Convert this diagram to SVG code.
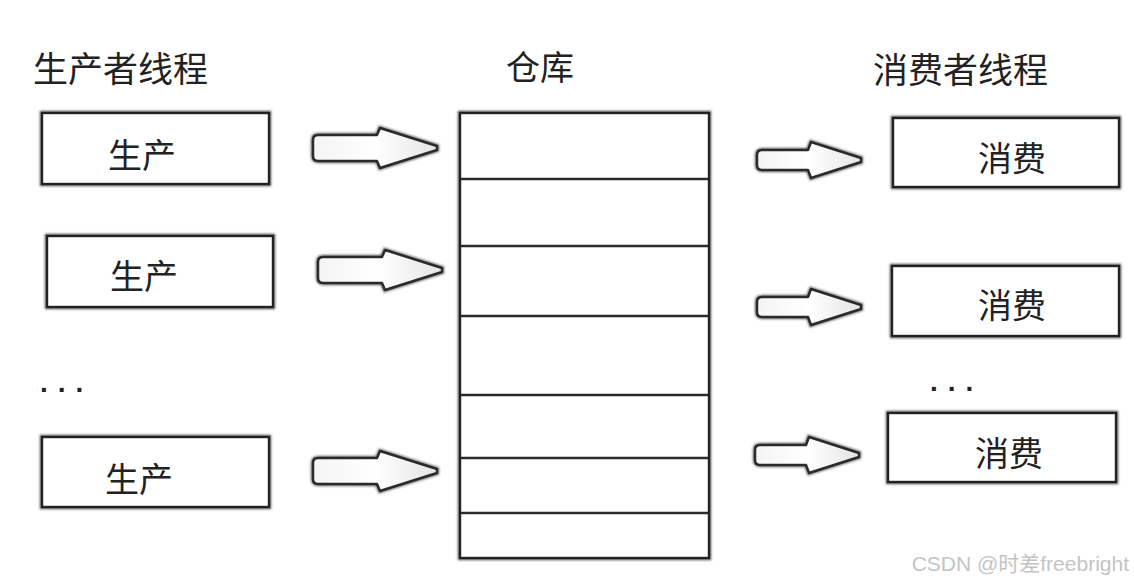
<svg xmlns="http://www.w3.org/2000/svg" xmlns:xlink="http://www.w3.org/1999/xlink" width="1134" height="584" viewBox="0 0 1134 584">
  <style>
    .title { font-family: "Noto Sans CJK SC", "Noto Sans", sans-serif; font-size: 35px; fill: #222; }
    .label { font-family: "Noto Sans CJK SC", "Noto Sans", sans-serif; font-size: 34px; fill: #222; }
    .dots { font-family: "Liberation Sans", sans-serif; font-size: 28px; font-weight: bold; fill: #222; letter-spacing: 10px; }
    .box-shadow { fill: none; stroke: #666; stroke-width: 4.5; filter: url(#soft); }
    .box { fill: #fff; stroke: #222; stroke-width: 2.4; }
    .shelf { stroke: #2a2a2a; stroke-width: 2.4; }
    .shelf-shadow { stroke: #777; stroke-width: 3.5; filter: url(#soft); }
    .arrow { fill: url(#arrowFill); stroke: #2a2a2a; stroke-width: 2.5; stroke-linejoin: round; }
    .arrow-shadow { fill: none; stroke: #777; stroke-width: 4.5; filter: url(#soft); }
    .wm { font-family: "Liberation Sans", "Noto Sans CJK SC", sans-serif; font-size: 21px; fill: #c4c4c4; }
  </style>
  <defs>
    <filter id="soft" x="-10%" y="-20%" width="120%" height="140%">
      <feGaussianBlur stdDeviation="1"/>
    </filter>
    <linearGradient id="arrowFill" x1="0" y1="0" x2="1" y2="0">
      <stop offset="0" stop-color="#f4f4f4"/>
      <stop offset="0.5" stop-color="#ffffff"/>
      <stop offset="1" stop-color="#e4e4e4"/>
    </linearGradient>
    <path id="pArrow" d="M5,-13 H64 L67,-20 L124,-2 L124,2 L67,20 L64,13 H5 Q0,13 0,8 V-8 Q0,-13 5,-13 Z"/>
    <path id="cArrow" d="M5,-10 H51 L54,-18 L104,-2 L104,2 L54,18 L51,10 H5 Q0,10 0,5 V-5 Q0,-10 5,-10 Z"/>
  </defs>
  <rect width="1134" height="584" fill="#fff"/>

  <!-- titles -->
  <text id="title-producer" class="title" x="33" y="82">生产者线程</text>
  <text id="title-warehouse" class="title" x="506" y="80" style="font-size:34px">仓库</text>
  <text id="title-consumer" class="title" x="873" y="83">消费者线程</text>

  <!-- producers -->
  <g id="producer-1">
    <rect class="box-shadow" x="42" y="113" width="227" height="71"/>
    <rect class="box" x="42" y="113" width="227" height="71"/>
    <text class="label" x="108" y="168">生产</text>
  </g>
  <g id="producer-2">
    <rect class="box-shadow" x="47" y="236" width="226" height="71"/>
    <rect class="box" x="47" y="236" width="226" height="71"/>
    <text class="label" x="110" y="289">生产</text>
  </g>
  <text id="producer-dots" class="dots" x="40" y="392">...</text>
  <g id="producer-3">
    <rect class="box-shadow" x="42" y="437" width="227" height="70"/>
    <rect class="box" x="42" y="437" width="227" height="70"/>
    <text class="label" x="105" y="492">生产</text>
  </g>

  <!-- warehouse -->
  <g id="warehouse">
    <rect class="box-shadow" x="460" y="113" width="249" height="445"/>
    <rect class="box" x="460" y="113" width="249" height="445"/>
    <g>
      <line class="shelf-shadow" x1="466" y1="181" x2="706" y2="181"/>
      <line class="shelf-shadow" x1="466" y1="248" x2="706" y2="248"/>
      <line class="shelf-shadow" x1="466" y1="318" x2="706" y2="318"/>
      <line class="shelf-shadow" x1="466" y1="397" x2="706" y2="397"/>
      <line class="shelf-shadow" x1="466" y1="460" x2="706" y2="460"/>
      <line class="shelf-shadow" x1="466" y1="515" x2="706" y2="515"/>
      <line class="shelf" x1="461" y1="179" x2="708" y2="179"/>
      <line class="shelf" x1="461" y1="246" x2="708" y2="246"/>
      <line class="shelf" x1="461" y1="316" x2="708" y2="316"/>
      <line class="shelf" x1="461" y1="395" x2="708" y2="395"/>
      <line class="shelf" x1="461" y1="458" x2="708" y2="458"/>
      <line class="shelf" x1="461" y1="513" x2="708" y2="513"/>
    </g>
  </g>

  <!-- consumers -->
  <g id="consumer-1">
    <rect class="box-shadow" x="893" y="118" width="226" height="69"/>
    <rect class="box" x="893" y="118" width="226" height="69"/>
    <text class="label" x="978" y="171">消费</text>
  </g>
  <g id="consumer-2">
    <rect class="box-shadow" x="892" y="266" width="227" height="70"/>
    <rect class="box" x="892" y="266" width="227" height="70"/>
    <text class="label" x="978" y="318">消费</text>
  </g>
  <text id="consumer-dots" class="dots" x="930" y="391">...</text>
  <g id="consumer-3">
    <rect class="box-shadow" x="888" y="413" width="228" height="69"/>
    <rect class="box" x="888" y="413" width="228" height="69"/>
    <text class="label" x="975" y="466">消费</text>
  </g>

  <!-- connectors -->
  <g id="connectors">
    <use xlink:href="#pArrow" href="#pArrow" class="arrow-shadow" transform="translate(313,148)"/>
    <use xlink:href="#pArrow" href="#pArrow" class="arrow" transform="translate(313,148)"/>
    <use xlink:href="#pArrow" href="#pArrow" class="arrow-shadow" transform="translate(318,270)"/>
    <use xlink:href="#pArrow" href="#pArrow" class="arrow" transform="translate(318,270)"/>
    <use xlink:href="#pArrow" href="#pArrow" class="arrow-shadow" transform="translate(313,471)"/>
    <use xlink:href="#pArrow" href="#pArrow" class="arrow" transform="translate(313,471)"/>
    <use xlink:href="#cArrow" href="#cArrow" class="arrow-shadow" transform="translate(757,160)"/>
    <use xlink:href="#cArrow" href="#cArrow" class="arrow" transform="translate(757,160)"/>
    <use xlink:href="#cArrow" href="#cArrow" class="arrow-shadow" transform="translate(757,307)"/>
    <use xlink:href="#cArrow" href="#cArrow" class="arrow" transform="translate(757,307)"/>
    <use xlink:href="#cArrow" href="#cArrow" class="arrow-shadow" transform="translate(755,455)"/>
    <use xlink:href="#cArrow" href="#cArrow" class="arrow" transform="translate(755,455)"/>
  </g>

  <text id="watermark" class="wm" x="1129" y="571" text-anchor="end">CSDN @时差freebright</text>
</svg>
